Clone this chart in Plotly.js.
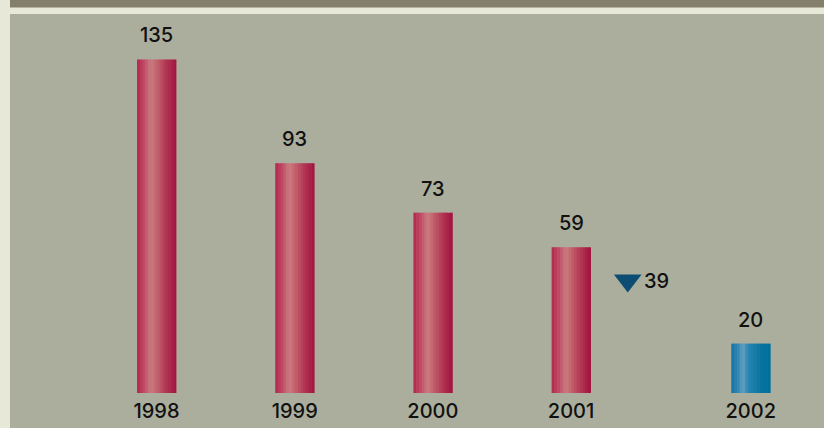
<!DOCTYPE html>
<html>
<head>
<meta charset="utf-8">
<script src="https://cdn.plot.ly/plotly-3.0.1.min.js"></script>
<style>html,body{margin:0;padding:0;background:#abae9d;}#chart{width:824px;height:428px;}</style>
</head>
<body>
<div id="chart"></div>
<script>
// ---- data ----
const years = ['1998', '1999', '2000', '2001', '2002'];
const values = [135, 93, 73, 59, 20];
const changeLabel = ['39'];
const changeValue = [39];

// ---- layout helpers (positions / styles) ----
const slot = [0, 1, 2, 3, 4.3];          // horizontal slot of each year
const changeSlot = 3.41;                  // slot of the change marker
const changeY = 45.5;                     // vertical placement of marker
const barW = 0.282;
const N = 14;

function hex(c){return [parseInt(c.substr(1,2),16),parseInt(c.substr(3,2),16),parseInt(c.substr(5,2),16)];}
function grad(stops, t){
  for(let i=0;i<stops.length-1;i++){
    const [t0,c0]=stops[i],[t1,c1]=stops[i+1];
    if(t>=t0 && t<=t1){
      const f=(t-t0)/(t1-t0); const a=hex(c0), b=hex(c1);
      return 'rgb('+a.map((v,k)=>Math.round(v+(b[k]-v)*f)).join(',')+')';
    }
  }
  return stops[stops.length-1][1];
}
const redStops = [[0,'#b3264f'],[0.18,'#bf4a63'],[0.36,'#cc7b81'],[0.48,'#c5666f'],[0.75,'#b23454'],[1,'#a1133d']];
const blueStops = [[0,'#0f74a1'],[0.18,'#3588b5'],[0.3,'#62a1c3'],[0.42,'#2d86b3'],[0.7,'#0a75a2'],[1,'#006e99']];

const traces = [];
for(let i=0;i<N;i++){
  const t=(i+0.5)/N;
  const colors = years.map((y,k)=> k===years.length-1 ? grad(blueStops,t) : grad(redStops,t));
  traces.push({
    type:'bar', x:slot, y:values,
    width: barW/N*1.15, offset: -barW/2 + i*barW/N,
    marker:{color:colors, line:{width:0}},
    hoverinfo:'skip', showlegend:false
  });
}
traces.push({
  type:'scatter', mode:'markers', x:[changeSlot], y:[changeY],
  marker:{symbol:'triangle-down', size:24, color:'#0d4d73', line:{width:0}},
  customdata: changeValue, showlegend:false
});

const font = {family:'Inter, "Open Sans", sans-serif', size:20, weight:500, color:'#111'};
const annotations = years.map((y,k)=>({
  x:slot[k], y:values[k], text:String(values[k]), showarrow:false,
  yshift:24, yanchor:'middle', font:font
}));
annotations.push({x:changeSlot, y:changeY, text:changeLabel[0], showarrow:false,
  xanchor:'left', xshift:14, yanchor:'middle', font:font});

const layout = {
  width:824, height:428,
  margin:{l:0,r:0,t:0,b:0},
  paper_bgcolor:'#abae9d', plot_bgcolor:'#abae9d',
  barmode:'overlay', showlegend:false,
  xaxis:{domain:[10/824,1], range:[-1.06,4.83], tickvals:slot, ticktext:years,
    showgrid:false, zeroline:false, showline:false, ticks:'', ticklabelstandoff:4,
    tickfont:font, fixedrange:true},
  yaxis:{domain:[35/428, 1-14/428], range:[0,153.4], visible:false, fixedrange:true},
  annotations:annotations,
  shapes:[
    {type:'rect', xref:'paper', yref:'paper', x0:0, x1:10/824, y0:0, y1:1, fillcolor:'#e7e8d7', line:{width:0}, layer:'above'},
    {type:'rect', xref:'paper', yref:'paper', x0:10/824, x1:1, y0:1-14/428, y1:1, fillcolor:'#e7e8d7', line:{width:0}, layer:'above'},
    {type:'rect', xref:'paper', yref:'paper', x0:10/824, x1:1, y0:1-7.5/428, y1:1, fillcolor:'#847f6a', line:{width:0}, layer:'above'}
  ]
};
Plotly.newPlot('chart', traces, layout, {staticPlot:true, displayModeBar:false});
</script>
</body>
</html>
